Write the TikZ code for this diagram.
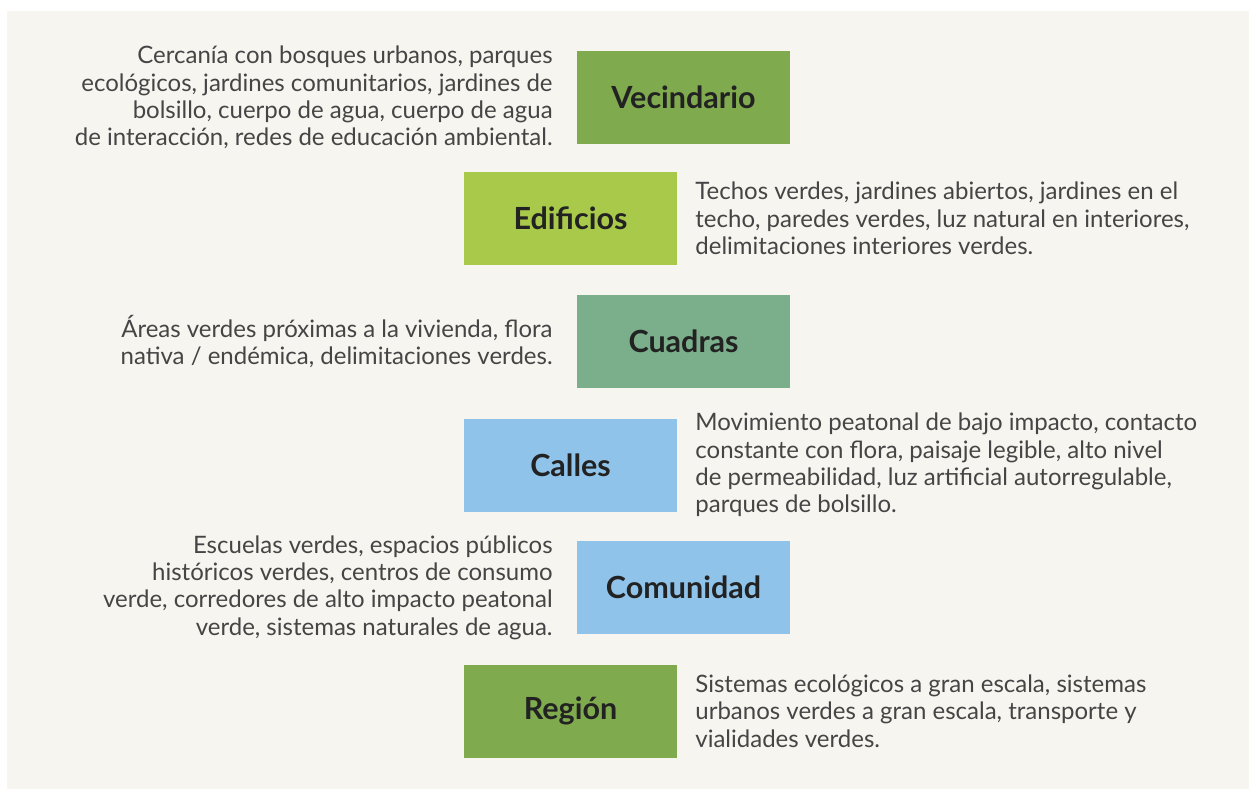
\documentclass[tikz,border=0pt]{standalone}
\usepackage{fontspec}
\setmainfont{Lato}
\usetikzlibrary{positioning}
\definecolor{bggray}{HTML}{F6F5F0}
\definecolor{leafgreen}{HTML}{7FAA4E}
\definecolor{limegreen}{HTML}{A8C94A}
\definecolor{sagegreen}{HTML}{7BAE8B}
\definecolor{skyblue}{HTML}{8FC3EA}
\definecolor{txtgray}{HTML}{454545}
\definecolor{lblgray}{HTML}{222222}
\tikzset{
	levelbox/.style={fill=#1, minimum width=213pt, minimum height=93pt, inner sep=0pt, text=lblgray, font=\fontsize{30.5}{33}\selectfont\bfseries},
	desc/.style={inner sep=0pt, text=txtgray, font=\fontsize{24}{27.3}\selectfont}
}
\begin{document}
\begin{tikzpicture}[x=1pt, y=-1pt]
	%background
	\useasboundingbox (0,0) rectangle (1249,789);
	\fill[white] (0,0) rectangle (1249,789);
	\fill[bggray] (7,11) rectangle (1249,789);
	
	%levels
	\node[levelbox=leafgreen] (vec) at (683.5, 97.5) {Vecindario};
	\node[levelbox=limegreen] (edi) at (570.5, 218.5) {Edificios};
	\node[levelbox=sagegreen] (cua) at (683.5, 341.5) {Cuadras};
	\node[levelbox=skyblue] (cal) at (570.5, 465) {Calles};
	\node[levelbox=skyblue] (com) at (683.5, 587.5) {Comunidad};
	\node[levelbox=leafgreen] (reg) at (570.5, 711) {Región};
	
	%descriptions
	\node[desc, align=right, left=24pt of vec] (vectxt) {Cercanía con bosques urbanos, parques\\ecológicos, jardines comunitarios, jardines de\\bolsillo, cuerpo de agua, cuerpo de agua\\de interacción, redes de educación ambiental.};
	\node[desc, align=left, right=18pt of edi] (editxt) {Techos verdes, jardines abiertos, jardines en el\\techo, paredes verdes, luz natural en interiores,\\delimitaciones interiores verdes.};
	\node[desc, align=right, left=24pt of cua] (cuatxt) {Áreas verdes próximas a la vivienda, flora\\nativa / endémica, delimitaciones verdes.};
	\node[desc, align=left, right=18pt of cal] (caltxt) {Movimiento peatonal de bajo impacto, contacto\\constante con flora, paisaje legible, alto nivel\\de permeabilidad, luz artificial autorregulable,\\parques de bolsillo.};
	\node[desc, align=right, left=24pt of com] (comtxt) {Escuelas verdes, espacios públicos\\históricos verdes, centros de consumo\\verde, corredores de alto impacto peatonal\\verde, sistemas naturales de agua.};
	\node[desc, align=left, right=18pt of reg] (regtxt) {Sistemas ecológicos a gran escala, sistemas\\urbanos verdes a gran escala, transporte y\\vialidades verdes.};
\end{tikzpicture}
\end{document}
